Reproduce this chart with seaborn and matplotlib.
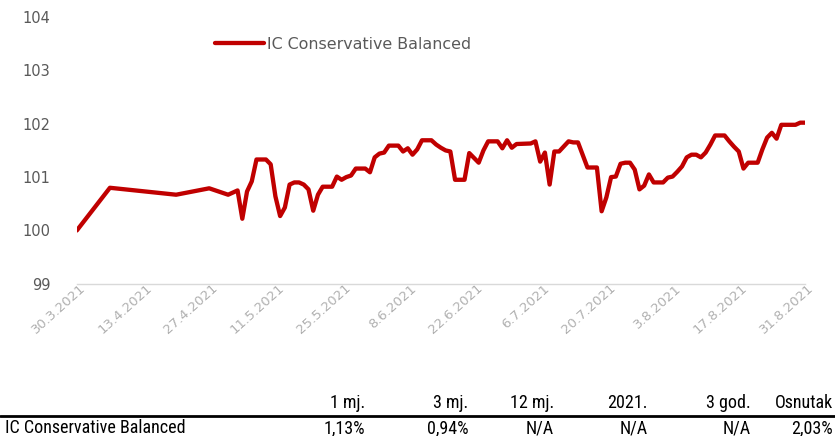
import pandas as pd
import matplotlib.pyplot as plt
import matplotlib.transforms as mtransforms
from matplotlib import font_manager
import seaborn as sns

# fund value (index, start = 100)
datumi = ["30.3.2021", "6.4.2021", "20.4.2021", "27.4.2021", "1.5.2021", "3.5.2021", "4.5.2021",
          "5.5.2021", "6.5.2021", "7.5.2021", "9.5.2021", "10.5.2021", "11.5.2021", "12.5.2021",
          "13.5.2021", "14.5.2021", "15.5.2021", "16.5.2021", "17.5.2021", "18.5.2021", "19.5.2021",
          "20.5.2021", "21.5.2021", "22.5.2021", "23.5.2021", "24.5.2021", "25.5.2021", "26.5.2021",
          "27.5.2021", "28.5.2021", "29.5.2021", "30.5.2021", "31.5.2021", "1.6.2021", "2.6.2021",
          "3.6.2021", "4.6.2021", "5.6.2021", "6.6.2021", "7.6.2021", "8.6.2021", "9.6.2021",
          "10.6.2021", "11.6.2021", "12.6.2021", "13.6.2021", "14.6.2021", "15.6.2021", "16.6.2021",
          "17.6.2021", "18.6.2021", "19.6.2021", "20.6.2021", "21.6.2021", "23.6.2021", "24.6.2021",
          "25.6.2021", "26.6.2021", "27.6.2021", "28.6.2021", "29.6.2021", "30.6.2021", "1.7.2021",
          "4.7.2021", "5.7.2021", "6.7.2021", "7.7.2021", "8.7.2021", "9.7.2021", "10.7.2021",
          "12.7.2021", "13.7.2021", "14.7.2021", "16.7.2021", "18.7.2021", "19.7.2021", "20.7.2021",
          "21.7.2021", "22.7.2021", "23.7.2021", "24.7.2021", "25.7.2021", "26.7.2021", "27.7.2021",
          "28.7.2021", "29.7.2021", "30.7.2021", "1.8.2021", "2.8.2021", "3.8.2021", "4.8.2021",
          "5.8.2021", "6.8.2021", "7.8.2021", "8.8.2021", "9.8.2021", "10.8.2021", "11.8.2021",
          "12.8.2021", "14.8.2021", "15.8.2021", "16.8.2021", "17.8.2021", "18.8.2021", "19.8.2021",
          "21.8.2021", "22.8.2021", "23.8.2021", "24.8.2021", "25.8.2021", "26.8.2021", "29.8.2021",
          "30.8.2021", "31.8.2021"]
vrijednosti = [100.00, 100.80, 100.67, 100.79, 100.67, 100.75, 100.22,
               100.73, 100.92, 101.33, 101.33, 101.24, 100.64, 100.27,
               100.43, 100.86, 100.90, 100.90, 100.86, 100.77, 100.37,
               100.67, 100.82, 100.82, 100.82, 101.01, 100.95, 101.00,
               101.03, 101.16, 101.16, 101.16, 101.09, 101.37, 101.44,
               101.46, 101.59, 101.59, 101.59, 101.48, 101.54, 101.42,
               101.52, 101.69, 101.69, 101.69, 101.61, 101.55, 101.50,
               101.48, 100.95, 100.95, 100.95, 101.45, 101.27, 101.50,
               101.67, 101.67, 101.67, 101.54, 101.69, 101.55, 101.62,
               101.63, 101.67, 101.29, 101.46, 100.86, 101.48, 101.48,
               101.67, 101.65, 101.65, 101.18, 101.18, 100.36, 100.62,
               101.00, 101.01, 101.25, 101.27, 101.27, 101.14, 100.77,
               100.84, 101.05, 100.90, 100.90, 100.99, 101.01, 101.10,
               101.20, 101.37, 101.42, 101.42, 101.37, 101.46, 101.61,
               101.78, 101.78, 101.67, 101.57, 101.48, 101.16, 101.27,
               101.27, 101.52, 101.74, 101.83, 101.72, 101.98, 101.98,
               102.02, 102.02]

naziv_fonda = "IC Conservative Balanced"
stupci = ["1 mj.", "3 mj.", "12 mj.", "2021.", "3 god.", "Osnutak"]
prinosi = ["1,13%", "0,94%", "N/A", "N/A", "N/A", "2,03%"]

data = pd.DataFrame({"Datum": pd.to_datetime(datumi, format="%d.%m.%Y"),
                     "Vrijednost": vrijednosti})

sns.set_style("white")
plt.rcParams['font.family'] = ['DejaVu Sans']

# uski font za tablicu, ako postoji
installed = {f.name for f in font_manager.fontManager.ttflist}
tfont = [f for f in ['Liberation Sans Narrow', 'DejaVu Sans Condensed', 'Roboto Condensed',
                     'Roboto', 'DejaVu Sans'] if f in installed]

fig = plt.figure(figsize=(8.35, 4.36), dpi=100)
ax = fig.add_axes([0.092, 0.349, 0.872, 0.612])

sns.lineplot(data=data, x="Datum", y="Vrijednost", color="#C00000", linewidth=3.1,
             label=naziv_fonda, ax=ax)

ax.set_ylim(99, 104)
ax.set_xlim(data["Datum"].min(), data["Datum"].max())
ax.set_yticks([99, 100, 101, 102, 103, 104])
ax.set_xlabel("")
ax.set_ylabel("")

tick_dates = pd.date_range("2021-03-30", "2021-08-31", freq="14D")
ax.set_xticks(tick_dates)
ax.set_xticklabels([f"{d.day}.{d.month}.{d.year}" for d in tick_dates],
                   rotation=42, ha="right", va="center", rotation_mode="anchor",
                   color="#b0b0b0", fontsize=9.5)
ax.tick_params(axis="x", length=0, pad=2)
ax.tick_params(axis="y", length=0, pad=19, labelsize=10.5, labelcolor="#595959")
pomak = mtransforms.ScaledTranslation(7 / 100, 0, fig.dpi_scale_trans)
for lbl in ax.get_xticklabels():
    lbl.set_transform(lbl.get_transform() + pomak)

for s in ["top", "right", "left"]:
    ax.spines[s].set_visible(False)
ax.spines["bottom"].set_color("#d9d9d9")
ax.spines["bottom"].set_linewidth(1)

leg = ax.legend(loc="upper left", bbox_to_anchor=(0.17, 0.98), frameon=False,
                handlelength=3.1, handletextpad=0.2, fontsize=11.4)
for t in leg.get_texts():
    t.set_color("#595959")

# tablica prinosa ispod grafa
x_desno = [365, 468, 554, 648, 751, 833]
for x, naslov, prinos in zip(x_desno, stupci, prinosi):
    fig.text(x / 835, 1 - 403 / 436, naslov, ha="right", va="center",
             fontsize=13, family=tfont, fontstretch="condensed", color="black")
    fig.text(x / 835, 1 - 428 / 436, prinos, ha="right", va="center",
             fontsize=13, family=tfont, fontstretch="condensed", color="black")
fig.text(5 / 835, 1 - 428 / 436, naziv_fonda, ha="left", va="center",
         fontsize=13, family=tfont, fontstretch="condensed", color="black")
fig.add_artist(plt.Line2D([0, 1], [1 - 415.5 / 436, 1 - 415.5 / 436],
                          color="black", linewidth=2, transform=fig.transFigure))

plt.savefig("out.png", dpi=100)
